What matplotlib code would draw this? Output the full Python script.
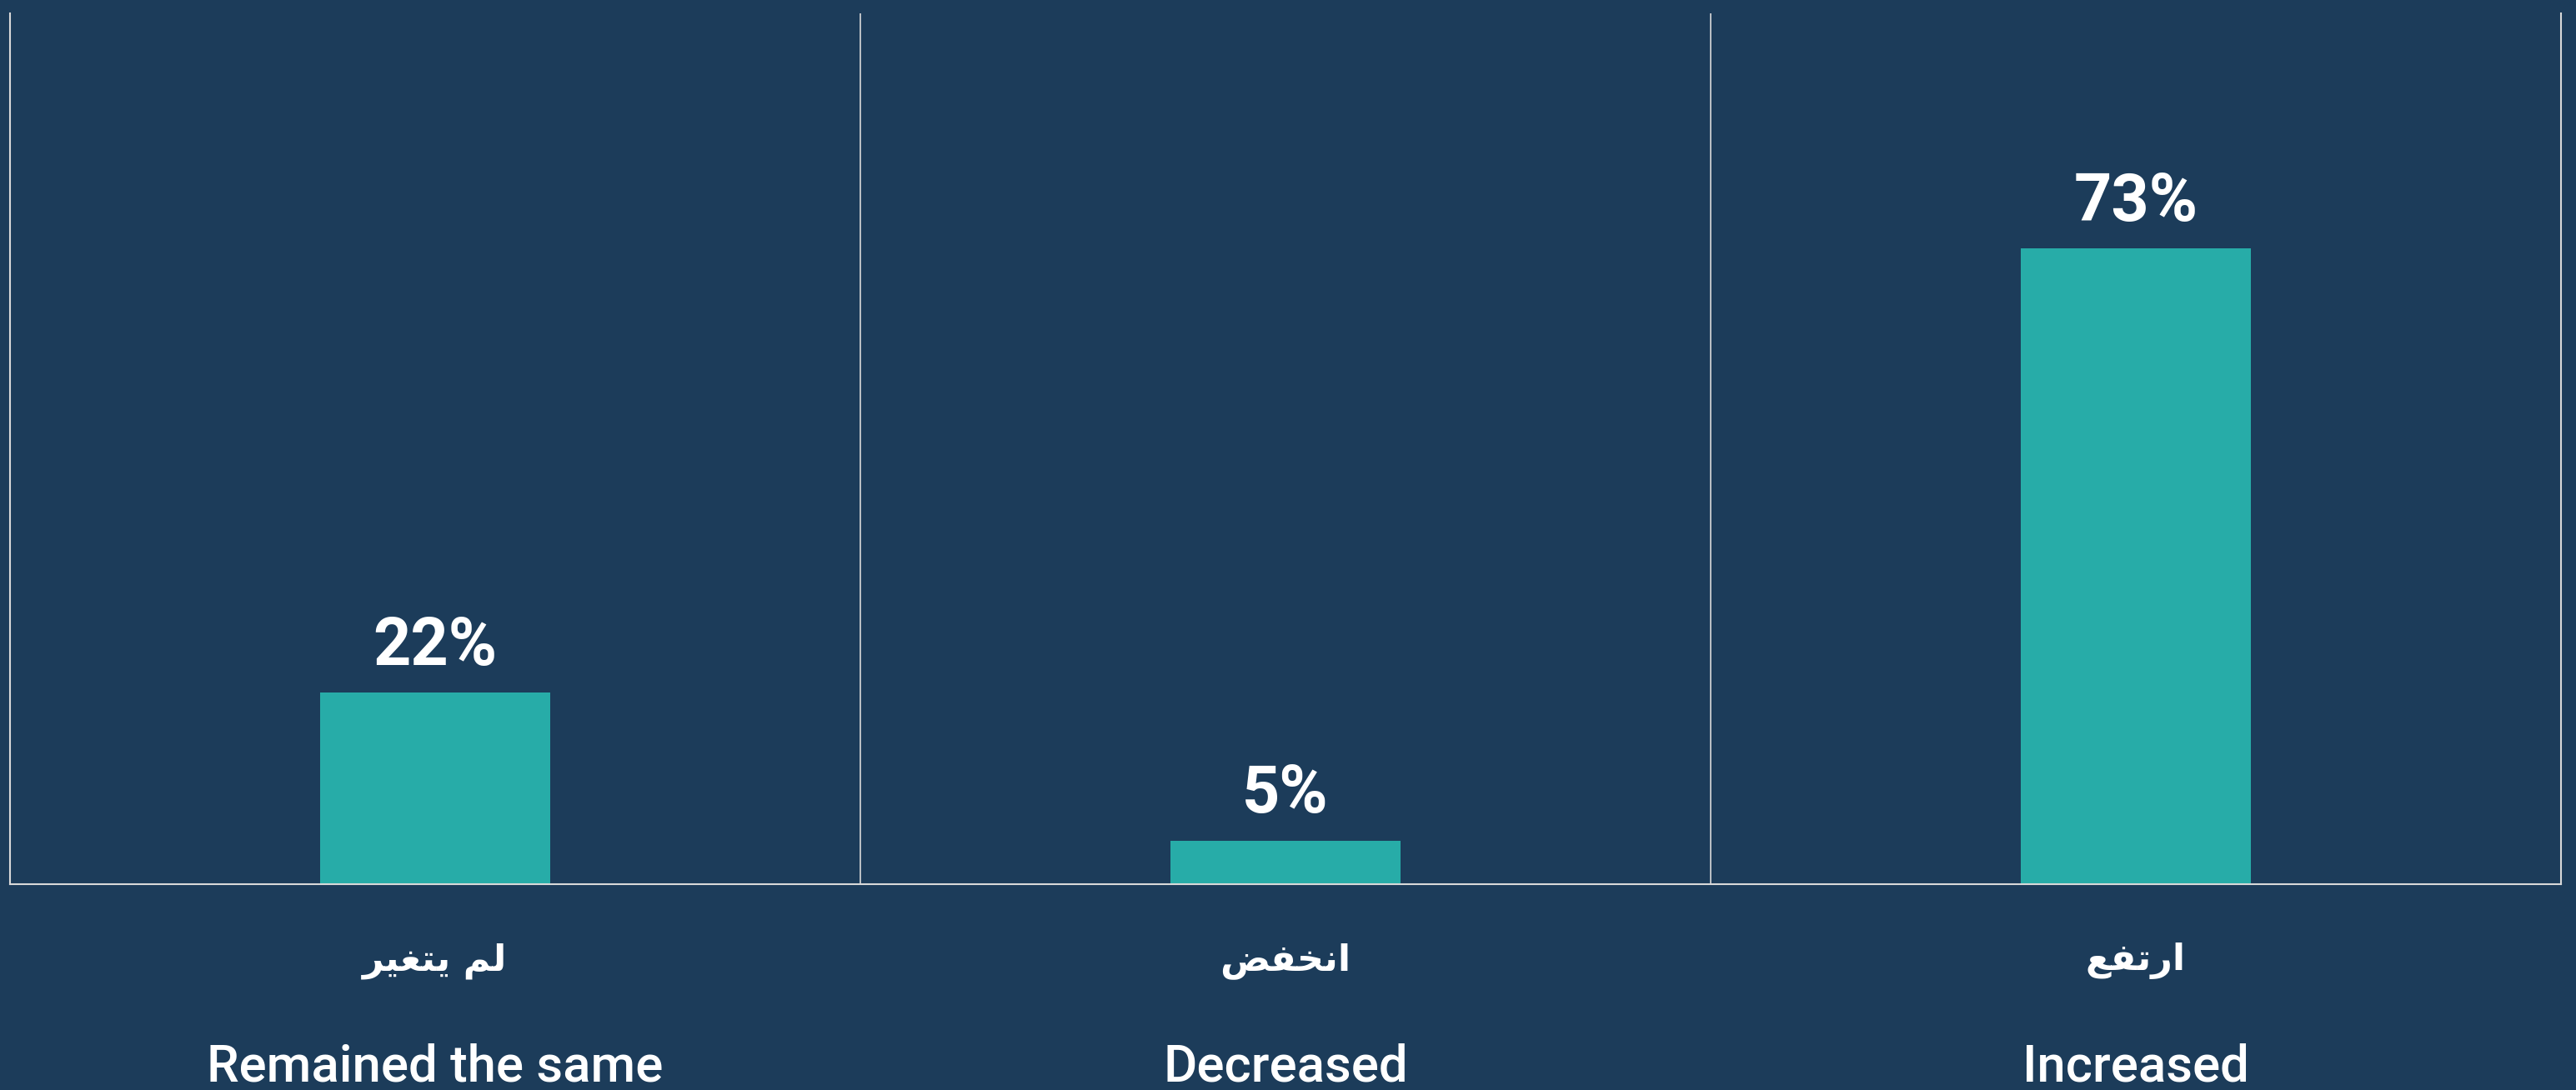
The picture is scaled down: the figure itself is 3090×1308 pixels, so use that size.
import matplotlib
matplotlib.use("Agg")
import matplotlib.pyplot as plt
from matplotlib.transforms import blended_transform_factory

# ---- data ----
categories_en = ["Remained the same", "Decreased", "Increased"]
categories_ar = ["لم يتغير", "انخفض", "ارتفع"]
values = [22, 5, 73]
value_labels = ["22%", "5%", "73%"]

# ---- minimal Arabic shaping (contextual forms + RTL order) ----
FORMS = {
    'ا': ('\uFE8D', '\uFE8E', None, None),
    'ر': ('\uFEAD', '\uFEAE', None, None),
    'ت': ('\uFE95', '\uFE96', '\uFE97', '\uFE98'),
    'ع': ('\uFEC9', '\uFECA', '\uFECB', '\uFECC'),
    'غ': ('\uFECD', '\uFECE', '\uFECF', '\uFED0'),
    'ف': ('\uFED1', '\uFED2', '\uFED3', '\uFED4'),
    'ل': ('\uFEDD', '\uFEDE', '\uFEDF', '\uFEE0'),
    'م': ('\uFEE1', '\uFEE2', '\uFEE3', '\uFEE4'),
    'ن': ('\uFEE5', '\uFEE6', '\uFEE7', '\uFEE8'),
    'ي': ('\uFEF1', '\uFEF2', '\uFEF3', '\uFEF4'),
    'خ': ('\uFEA5', '\uFEA6', '\uFEA7', '\uFEA8'),
    'ض': ('\uFEBD', '\uFEBE', '\uFEBF', '\uFEC0'),
}


def shape_ar(text):
    out = []
    n = len(text)
    for i, ch in enumerate(text):
        if ch not in FORMS:
            out.append(ch)
            continue
        prev = text[i - 1] if i > 0 else None
        nxt = text[i + 1] if i < n - 1 else None
        jp = prev in FORMS and FORMS[prev][2] is not None if prev else False
        jn = (nxt in FORMS) and FORMS[ch][2] is not None if nxt else False
        iso, fin, ini, med = FORMS[ch]
        if jp and jn:
            out.append(med)
        elif jp:
            out.append(fin)
        elif jn:
            out.append(ini)
        else:
            out.append(iso)
    return "".join(out)[::-1]


BG = "#1c3c5a"
BAR = "#27aca8"
LINE = "#d9d9d9"

W, H, DPI = 3090, 1308, 100
fig = plt.figure(figsize=(W / DPI, H / DPI), dpi=DPI, facecolor=BG)
ax = fig.add_axes([12 / W, 1 - 1061 / H, 3060 / W, (1061 - 16) / H])
ax.set_facecolor(BG)

x = list(range(len(values)))
ax.bar(x, values, width=0.27, color=BAR, zorder=2)
ax.set_xlim(-0.5, len(values) - 0.5)
ax.set_ylim(0, 100)

for sp in ["left", "right", "bottom"]:
    ax.spines[sp].set_color(LINE)
    ax.spines[sp].set_linewidth(1.5)
ax.spines["top"].set_visible(False)
for xv in [0.5, 1.5]:
    ax.axvline(xv, color=LINE, lw=1.2, zorder=1)
ax.set_xticks([])
ax.set_yticks([])

# value labels
for xi, v, lab in zip(x, values, value_labels):
    ax.annotate(lab, (xi, v), xytext=(0, 24), textcoords="offset points",
                ha="center", va="baseline", color="white", fontsize=57,
                fontweight="bold", family=["Roboto", "DejaVu Sans"])

trans = blended_transform_factory(ax.transData, fig.transFigure)
for xi, ar, en in zip(x, categories_ar, categories_en):
    fig.text(xi, 1 - 1153 / H, shape_ar(ar), transform=trans, ha="center",
             va="center", color="white", fontsize=32, fontweight="bold",
             family=["DejaVu Sans"])
    fig.text(xi, 1 - 1297 / H, en, transform=trans, ha="center",
             va="baseline", color="white", fontsize=44.5, fontweight="medium",
             family=["Roboto", "DejaVu Sans"])

fig.savefig("out.png", dpi=DPI, facecolor=BG)
